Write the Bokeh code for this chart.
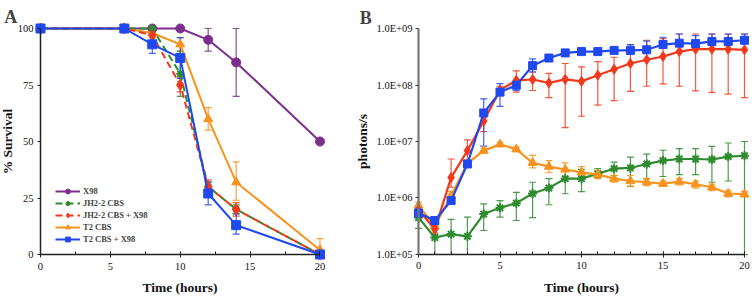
from bokeh.plotting import figure
from bokeh.models import (ColumnDataSource, Whisker, TeeHead, Legend, LegendItem,
                          SingleIntervalTicker, FixedTicker, Label, Range1d)
from bokeh.layouts import row
from bokeh.embed import file_html
from bokeh.resources import INLINE

# ---------------- Panel A data ----------------
time_a = [0, 6, 8, 10, 12, 14, 20]
x98 = [100, 100, 100, 100, 95, 85, 50]
x98_up = [100, 100, 100, 100, 100, 100, 50]
x98_lo = [100, 100, 100, 100, 90, 70, 50]
jh_cbs = [100, 100, 100, 80, 30, 20, 0]
jh_cbs_up = [100, 100, 100, 90, 32, 22, 0]
jh_cbs_lo = [100, 100, 100, 70, 28, 18, 0]
jh_cbs_x98 = [100, 100, 97, 75, 30, 20, 0]
jh_cbs_x98_up = [100, 100, 97, 78, 33, 23, 0]
jh_cbs_x98_lo = [100, 100, 97, 72, 27, 17, 0]
t2_cbs = [100, 100, 98, 93, 60, 32, 2]
t2_cbs_up = [100, 100, 100, 96, 65, 41, 7]
t2_cbs_lo = [100, 100, 96, 90, 55, 24, 0]
t2_cbs_x98 = [100, 100, 93, 87, 27, 13, 0]
t2_cbs_x98_up = [100, 100, 97, 96, 32, 18, 0]
t2_cbs_x98_lo = [100, 100, 89, 78, 22, 9, 0]

# ---------------- Panel B data ----------------
time_b = list(range(21))
b_jh_cbs = [4.5e5, 2.0e5, 2.3e5, 2.1e5, 5.2e5, 6.7e5, 8.1e5, 1.2e6, 1.5e6, 2.2e6, 2.2e6,
            2.7e6, 3.3e6, 3.4e6, 4.0e6, 4.6e6, 4.9e6, 4.9e6, 4.8e6, 5.4e6, 5.6e6]
b_jh_cbs_up = [5.5e5, 2.3e5, 4.2e5, 4.6e5, 7.9e5, 9.0e5, 1.26e6, 1.9e6, 2.2e6, 3.0e6, 3.2e6,
               3.3e6, 4.3e6, 5.3e6, 6.0e6, 7.0e6, 7.5e6, 7.5e6, 8.2e6, 9.4e6, 1.0e7]
b_jh_cbs_lo = [2.9e5, 1.0e5, 1.0e5, 1.0e5, 2.66e5, 4.6e5, 4.0e5, 4.5e5, 7.6e5, 1.19e6, 1.3e6,
               2.3e6, 2.5e6, 1.6e6, 2.2e6, 2.4e6, 2.6e6, 2.6e6, 1.9e6, 2.0e6, 1.0e5]
b_jh_x98 = [6.2e5, 2.8e5, 2.3e6, 6.9e6, 2.3e7, 8.1e7, 1.21e8, 1.25e8, 1.09e8, 1.26e8, 1.16e8,
            1.49e8, 1.9e8, 2.4e8, 2.8e8, 3.2e8, 3.9e8, 4.3e8, 4.3e8, 4.3e8, 4.2e8]
b_jh_x98_up = [7.0e5, 3.2e5, 4.9e6, 1.07e7, 2.8e7, 9.5e7, 1.78e8, 1.7e8, 1.6e8, 2.4e8, 2.1e8,
               2.6e8, 3.1e8, 5.2e8, 6.2e8, 6.6e8, 8.0e8, 8.0e8, 8.0e8, 8.0e8, 8.0e8]
b_jh_x98_lo = [5.5e5, 2.4e5, 1.55e6, 4.4e6, 1.5e7, 6.5e7, 7.5e7, 8.0e7, 6.0e7, 1.76e7, 2.8e7,
               4.4e7, 5.3e7, 7.7e7, 9.5e7, 1.05e8, 9.5e7, 7.9e7, 7.4e7, 6.9e7, 6.0e7]
b_t2 = [7.4e5, 3.2e5, 1.1e6, 4.1e6, 6.9e6, 8.9e6, 7.3e6, 4.2e6, 3.6e6, 3.2e6, 2.84e6,
        2.6e6, 2.2e6, 2.0e6, 1.9e6, 1.8e6, 1.95e6, 1.75e6, 1.55e6, 1.2e6, 1.17e6]
b_t2_up = [8.5e5, 3.6e5, 1.3e6, 4.7e6, 7.6e6, 9.6e6, 8.0e6, 5.7e6, 4.6e6, 4.2e6, 3.6e6,
           3.0e6, 2.5e6, 2.5e6, 2.2e6, 2.0e6, 2.2e6, 2.0e6, 1.75e6, 1.35e6, 1.3e6]
b_t2_lo = [6.4e5, 2.8e5, 0.95e6, 3.5e6, 6.3e6, 8.2e6, 6.6e6, 3.4e6, 2.8e6, 2.4e6, 2.2e6,
           2.2e6, 1.9e6, 1.6e6, 1.65e6, 1.6e6, 1.7e6, 1.5e6, 1.35e6, 1.05e6, 1.05e6]
b_t2_x98 = [5.4e5, 4.0e5, 9.0e5, 4.0e6, 3.2e7, 7.5e7, 9.9e7, 2.2e8, 3.0e8, 3.7e8, 3.9e8,
            3.9e8, 4.1e8, 4.1e8, 4.2e8, 5.2e8, 5.5e8, 5.4e8, 5.9e8, 5.9e8, 6.2e8]
b_t2_x98_up = [6.5e5, 4.5e5, 1.0e6, 4.6e6, 5.7e7, 1.06e8, 1.2e8, 2.9e8, 3.2e8, 3.9e8, 4.1e8,
               4.2e8, 4.5e8, 5.2e8, 6.0e8, 7.0e8, 8.0e8, 7.5e8, 8.0e8, 8.0e8, 8.0e8]
b_t2_x98_lo = [4.5e5, 3.5e5, 8.0e5, 3.5e6, 8.3e6, 4.2e7, 8.0e7, 1.7e8, 2.8e8, 3.5e8, 3.7e8,
               3.6e8, 3.7e8, 3.6e8, 3.7e8, 4.5e8, 4.8e8, 4.7e8, 5.1e8, 5.1e8, 5.4e8]

ticks_b = [1e5, 1e6, 1e7, 1e8, 1e9]
tick_labels_b = ["1.0E+05", "1.0E+06", "1.0E+07", "1.0E+08", "1.0E+09"]
ticks_a = [0, 25, 50, 75, 100]
labels = ["X98", "JH2-2 CBS", "JH2-2 CBS + X98", "T2 CBS", "T2 CBS + X98"]

PURPLE = "#7d2e8c"
GREEN = "#2e8b2e"
RED = "#f2391c"
ORANGE = "#f7931e"
BLUE = "#1f48f0"
SERIF = "Liberation Serif"


def add_errors(p, xs, up, lo, color):
    xx, uu, ll = [], [], []
    for x, u, l in zip(xs, up, lo):
        if u != l:
            xx.append(x); uu.append(u); ll.append(l)
    src = ColumnDataSource(dict(x=xx, upper=uu, lower=ll))
    w = Whisker(source=src, base="x", upper="upper", lower="lower", dimension="height",
                line_color=color, line_width=1.2, line_alpha=0.85,
                upper_head=TeeHead(size=7, line_color=color, line_width=1.2, line_alpha=0.85),
                lower_head=TeeHead(size=7, line_color=color, line_width=1.2, line_alpha=0.85))
    p.add_layout(w)


def style_common(p):
    p.grid.visible = False
    p.outline_line_color = None
    p.background_fill_color = "white"
    p.border_fill_color = "white"
    for ax in (p.xaxis[0], p.yaxis[0]):
        ax.major_label_text_font = SERIF
        ax.major_label_text_font_size = "10.5px"
        ax.major_label_text_color = "#111"
        ax.axis_label_text_font = SERIF
        ax.axis_label_text_font_style = "bold"
        ax.axis_label_text_font_size = "13.5px"
        ax.axis_label_text_color = "#111"


# ---------------- Panel A ----------------
# frame covers the whole figure; the axes are pinned at x=0 / y=0
pA = figure(width=345, height=296, title=None,
            x_range=Range1d(-2.862, 21.825), y_range=Range1d(-18.58, 112.39),
            output_backend="svg", toolbar_location=None,
            min_border_left=0, min_border_right=0, min_border_top=0, min_border_bottom=0)
style_common(pA)
xa = pA.xaxis[0]
xa.fixed_location = 0
xa.bounds = (0, 20)
xa.ticker = SingleIntervalTicker(interval=5, num_minor_ticks=2)
xa.major_tick_in = 3; xa.major_tick_out = 3
xa.minor_tick_in = 3; xa.minor_tick_out = 0
xa.axis_line_width = 1.5; xa.axis_line_color = "#222"
xa.major_tick_line_color = "#222"; xa.minor_tick_line_color = "#222"
xa.major_label_standoff = 5
xa.axis_label = "Time (hours)"
xa.axis_label_standoff = 7
ya = pA.yaxis[0]
ya.fixed_location = 0
ya.bounds = (0, 100)
ya.ticker = FixedTicker(ticks=ticks_a, minor_ticks=[])
ya.major_tick_in = 0; ya.major_tick_out = 3
ya.axis_line_width = 1.5; ya.axis_line_color = "#222"
ya.major_tick_line_color = "#222"
ya.major_label_standoff = 4
ya.axis_label = "% Survival"
ya.axis_label_standoff = 0

series_a = [
    (x98, x98_up, x98_lo, PURPLE, "circle", 9, None),
    (jh_cbs, jh_cbs_up, jh_cbs_lo, GREEN, "asterisk", 8, "7 4"),
    (jh_cbs_x98, jh_cbs_x98_up, jh_cbs_x98_lo, RED, "diamond", 11, "7 4"),
    (t2_cbs, t2_cbs_up, t2_cbs_lo, ORANGE, "triangle", 9, None),
    (t2_cbs_x98, t2_cbs_x98_up, t2_cbs_x98_lo, BLUE, "square", 9, None),
]
draw_order = [0, 3, 1, 2, 4]
for i in draw_order:
    ys, up, lo, col, mk, sz, dash = series_a[i]
    add_errors(pA, time_a, up, lo, col)
rends = {}
for i in draw_order:
    ys, up, lo, col, mk, sz, dash = series_a[i]
    lr = pA.line(time_a, ys, line_color=col, line_width=2, line_dash=dash if dash else "solid")
    sr = pA.scatter(time_a, ys, marker=mk, size=sz, fill_color=col, line_color=col,
                    line_width=2 if mk == "asterisk" else 1)
    rends[i] = [lr, sr]

items = [LegendItem(label=labels[i], renderers=rends[i]) for i in range(5)]
leg = Legend(items=items, location=(55, 51), padding=0, margin=0, spacing=0,
             glyph_width=25, glyph_height=12, label_height=12, label_standoff=3,
             label_text_font=SERIF, label_text_font_style="bold", label_text_font_size="8.5px",
             border_line_color=None, background_fill_alpha=0)
pA.add_layout(leg)
pA.add_layout(Label(x=-2.6, y=109.5, text="A", text_font=SERIF, text_font_style="bold",
                    text_font_size="18px", text_baseline="top", text_align="left"))

# ---------------- Panel B ----------------
pB = figure(width=409, height=296, title=None,
            x_range=Range1d(-4.479, 20.613),
            y_range=Range1d(10 ** 4.2566, 10 ** 9.4956), y_axis_type="log",
            output_backend="svg", toolbar_location=None,
            min_border_left=0, min_border_right=0, min_border_top=0, min_border_bottom=0)
style_common(pB)
xb = pB.xaxis[0]
xb.fixed_location = 1e5
xb.bounds = (0, 20)
xb.ticker = SingleIntervalTicker(interval=5, num_minor_ticks=5)
xb.major_tick_in = 3; xb.major_tick_out = 3
xb.minor_tick_in = 3; xb.minor_tick_out = 0
xb.axis_line_width = 1.5; xb.axis_line_color = "#222"
xb.major_tick_line_color = "#222"; xb.minor_tick_line_color = "#222"
xb.major_label_standoff = 5
xb.axis_label = "Time (hours)"
xb.axis_label_standoff = 7
yb = pB.yaxis[0]
yb.fixed_location = 0
yb.bounds = (1e5, 1e9)
yb.ticker = FixedTicker(ticks=ticks_b, minor_ticks=[])
yb.major_label_overrides = {t: s for t, s in zip(ticks_b, tick_labels_b)}
yb.major_tick_in = 0; yb.major_tick_out = 3
yb.axis_line_width = 2.2; yb.axis_line_color = "#777"
yb.major_tick_line_color = "#333"
yb.major_label_standoff = 3
yb.axis_label = "photons/s"
yb.axis_label_standoff = 4

series_b = [
    (b_jh_cbs, b_jh_cbs_up, b_jh_cbs_lo, GREEN, "asterisk", 9),
    (b_t2, b_t2_up, b_t2_lo, ORANGE, "triangle", 9),
    (b_jh_x98, b_jh_x98_up, b_jh_x98_lo, RED, "diamond", 10),
    (b_t2_x98, b_t2_x98_up, b_t2_x98_lo, BLUE, "square", 8),
]
for ys, up, lo, col, mk, sz in series_b:
    add_errors(pB, time_b, up, lo, col)
for ys, up, lo, col, mk, sz in series_b:
    pB.line(time_b, ys, line_color=col, line_width=2.2)
    pB.scatter(time_b, ys, marker=mk, size=sz, fill_color=col, line_color=col,
               line_width=2 if mk == "asterisk" else 1)
pB.add_layout(Label(x=-3.6, y=10 ** 9.37, text="B", text_font=SERIF, text_font_style="bold",
                    text_font_size="18px", text_baseline="top", text_align="left"))

layout = row(pA, pB)
open("out.html", "w").write(file_html(layout, INLINE))
